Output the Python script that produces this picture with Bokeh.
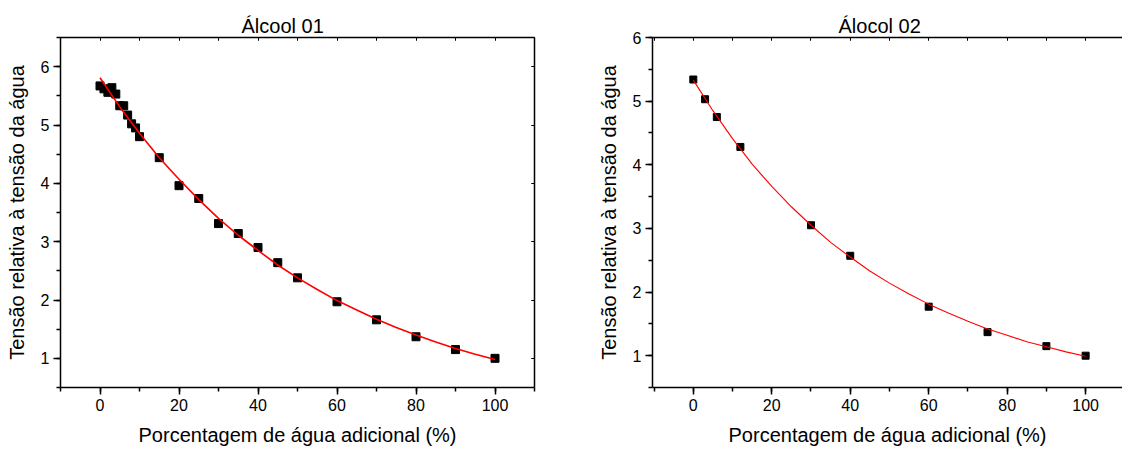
from bokeh.plotting import figure
from bokeh.layouts import row
from bokeh.models import SingleIntervalTicker, LinearAxis, Range1d, Title
from bokeh.embed import file_html
from bokeh.resources import INLINE

# --- Álcool 01: measured points ---
agua_01 = [0, 1, 2, 3, 4, 5, 6, 7, 8, 9, 10, 15, 20, 25, 30, 35, 40, 45, 50, 60, 70, 80, 90, 100]
tensao_01 = [5.67, 5.62, 5.56, 5.64, 5.53, 5.33, 5.33, 5.17, 5.02, 4.95, 4.80, 4.44, 3.96, 3.74,
             3.31, 3.14, 2.90, 2.64, 2.38, 1.97, 1.66, 1.37, 1.15, 1.00]

# --- Álcool 01: exponential-decay fit curve ---
ajuste_x = [0, 5, 10, 15, 20, 25, 30, 35, 40, 45, 50, 55, 60, 65, 70, 75, 80, 85, 90, 95, 100]
ajuste_01 = [5.81, 5.31, 4.86, 4.44, 4.07, 3.72, 3.40, 3.11, 2.85, 2.60, 2.38, 2.18, 1.99, 1.83,
             1.67, 1.53, 1.40, 1.28, 1.17, 1.07, 0.98]

# --- Álcool 02: measured points ---
agua_02 = [0, 3, 6, 12, 30, 40, 60, 75, 90, 100]
tensao_02 = [5.34, 5.03, 4.75, 4.28, 3.05, 2.57, 1.77, 1.37, 1.15, 1.00]

# --- Álcool 02: exponential-decay fit curve ---
ajuste_02 = [5.33, 4.85, 4.41, 4.01, 3.66, 3.34, 3.05, 2.78, 2.55, 2.33, 2.14, 1.97, 1.81, 1.67,
             1.54, 1.42, 1.32, 1.22, 1.14, 1.06, 0.99]

FONT = "Liberation Sans"
XLABEL = "Porcentagem de água adicional (%)"
YLABEL = "Tensão relativa à tensão da água"


def style_main_axis(ax, interval, label):
    ax.ticker = SingleIntervalTicker(interval=interval, num_minor_ticks=2)
    ax.axis_label = label
    ax.axis_label_text_font = FONT
    ax.axis_label_text_font_size = "20px"
    ax.axis_label_text_font_style = "normal"
    ax.axis_label_text_color = "black"
    ax.axis_label_standoff = 10
    ax.major_label_text_font = FONT
    ax.major_label_text_font_size = "16px"
    ax.major_label_text_color = "black"
    ax.major_label_standoff = 4
    ax.major_tick_out = 7
    ax.major_tick_in = 0
    ax.minor_tick_out = 4
    ax.minor_tick_in = 0
    ax.axis_line_color = "black"
    ax.axis_line_width = 1.5
    ax.major_tick_line_color = "black"
    ax.major_tick_line_width = 1.5
    ax.minor_tick_line_color = "black"
    ax.minor_tick_line_width = 1.5


def mirror_axis(p, side, interval, minor):
    # frame edge with inward ticks and no labels
    ax = LinearAxis(ticker=SingleIntervalTicker(interval=interval, num_minor_ticks=minor))
    ax.major_label_text_color = None
    ax.major_label_text_font_size = "8px"
    ax.major_label_standoff = 0
    ax.major_tick_out = 0
    ax.major_tick_in = 3
    ax.minor_tick_out = 0
    ax.minor_tick_in = 3
    ax.axis_line_color = "black"
    ax.axis_line_width = 1.5
    ax.major_tick_line_color = "black"
    ax.major_tick_line_width = 1
    ax.minor_tick_line_color = "black"
    ax.minor_tick_line_width = 1
    p.add_layout(ax, side)


def make_panel(titulo, x_rng, y_rng, width, left, right, offset):
    p = figure(width=width, height=450, x_range=Range1d(*x_rng), y_range=Range1d(*y_rng),
               output_backend="svg", toolbar_location=None,
               min_border_left=left, min_border_right=right,
               min_border_top=37, min_border_bottom=63)
    p.title = Title(text=titulo, align="left", offset=offset, text_font=FONT,
                    text_font_size="20px", text_font_style="normal", text_color="black",
                    standoff=2)
    p.grid.visible = False
    p.outline_line_color = None
    p.background_fill_color = "white"
    p.border_fill_color = "white"
    style_main_axis(p.xaxis[0], 20, XLABEL)
    style_main_axis(p.yaxis[0], 1, YLABEL)
    mirror_axis(p, "above", 10, 1)
    return p


p1 = make_panel("Álcool 01", (-10, 110), (0.5, 6.5), 560, 60, 26, 181)
mirror_axis(p1, "right", 1, 1)
p1.scatter(agua_01, tensao_01, marker="square", size=8, fill_color="black", line_color="black")
p1.line(ajuste_x, ajuste_01, line_color="#FF0000", line_width=1.6)

p2 = make_panel("Álocol 02", (-10.4, 109.4), (0.5, 6.0), 562, 92, 0, 186)
p2.scatter(agua_02, tensao_02, marker="square", size=7, fill_color="black", line_color="black")
p2.line(ajuste_x, ajuste_02, line_color="#FF0000", line_width=1.1)

layout = row(p1, p2)
open("out.html", "w").write(file_html(layout, INLINE))
